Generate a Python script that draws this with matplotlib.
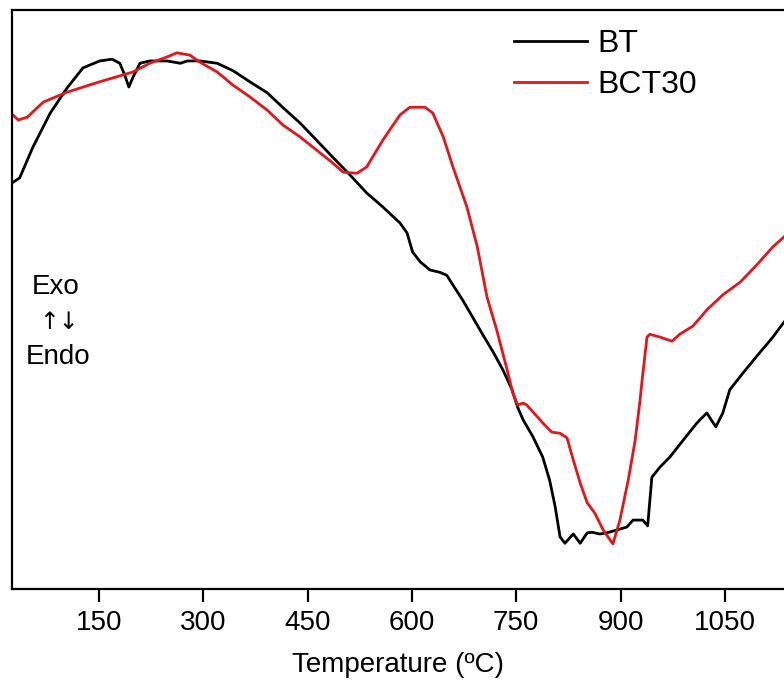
import matplotlib
matplotlib.use('Agg')
import matplotlib.pyplot as plt

plt.rcParams['font.family'] = ['Liberation Sans', 'DejaVu Sans']

# DTA traces, temperature in degC, signal in arbitrary units (exo up)
bt_temp = [26, 36, 55, 80, 104, 127, 151, 169, 180, 187, 193, 199, 209, 223, 248,
           267, 277, 295, 320, 343, 367, 392, 415, 439, 463, 486, 511, 535, 558,
           583, 593, 601, 612, 626, 640, 650, 659, 673, 688, 702, 717, 731, 744,
           752, 760, 774, 788, 798, 806, 813, 820, 832, 842, 852, 859, 870, 880,
           895, 909, 918, 932, 939, 945, 957, 971, 990, 1010, 1024, 1037, 1047,
           1057, 1076, 1100, 1119, 1135]
bt_signal = [70.2, 71.0, 76.3, 82.2, 86.5, 90.0, 91.2, 91.5, 90.8, 88.8, 86.7, 88.4,
             90.8, 91.2, 91.2, 90.8, 91.2, 91.2, 90.8, 89.5, 87.6, 85.7, 83.1, 80.5,
             77.5, 74.6, 71.5, 68.4, 66.0, 63.2, 61.5, 58.2, 56.5, 55.1, 54.7, 54.2,
             52.5, 49.9, 46.8, 43.9, 40.9, 37.8, 34.4, 31.4, 29.2, 26.3, 22.8, 18.8,
             14.2, 9.0, 7.9, 9.5, 7.9, 9.7, 9.8, 9.5, 9.7, 10.2, 10.7, 11.9, 11.9,
             10.9, 19.3, 21.1, 22.8, 25.7, 28.7, 30.4, 28.0, 30.4, 34.4, 37.3, 40.8,
             43.5, 46.1]

bct30_temp = [26, 34, 47, 70, 104, 151, 199, 223, 248, 262, 281, 295, 320, 343, 367,
              392, 415, 439, 463, 486, 501, 521, 535, 558, 583, 597, 619, 630, 645,
              659, 679, 694, 708, 722, 737, 745, 752, 760, 765, 774, 788, 801, 813,
              823, 832, 842, 852, 863, 875, 889, 899, 911, 921, 928, 931, 938, 942,
              957, 974, 985, 1004, 1024, 1047, 1072, 1096, 1119, 1135]
bct30_signal = [81.9, 81.0, 81.5, 84.1, 85.8, 87.6, 89.3, 90.8, 91.9, 92.6, 92.2,
                91.0, 89.3, 87.0, 85.0, 82.7, 80.1, 78.1, 75.8, 73.6, 72.0, 71.8,
                72.9, 77.5, 81.9, 83.2, 83.2, 82.2, 78.1, 72.9, 66.0, 59.1, 50.4,
                44.7, 37.8, 33.9, 31.8, 32.1, 31.8, 30.6, 28.7, 27.1, 26.9, 26.1,
                22.3, 18.3, 14.9, 13.1, 10.2, 7.8, 11.9, 18.8, 25.7, 32.6, 36.1,
                43.5, 44.0, 43.5, 42.8, 44.0, 45.4, 48.2, 50.8, 53.0, 56.0, 59.1,
                60.8]

xticks = [150, 300, 450, 600, 750, 900, 1050]

W, H = 784, 688
fig = plt.figure(figsize=(W / 100, H / 100), dpi=100)
ax = fig.add_axes([12 / W, (H - 589) / H, 1 - 12 / W, 579 / H])

ax.plot(bt_temp, bt_signal, color='black', lw=2.0, label='BT')
ax.plot(bct30_temp, bct30_signal, color='#e3161b', lw=2.0, label='BCT30')

ax.set_xlim(25, 1135)
ax.set_ylim(0, 100)
ax.set_xticks(xticks)
ax.set_yticks([])
ax.spines['right'].set_visible(False)
for s in ['left', 'top', 'bottom']:
    ax.spines[s].set_linewidth(1.6)
ax.tick_params(axis='x', direction='out', length=9, width=1.6, pad=6, labelsize=20)

fig.text(398 / W, 1 - 665 / H, 'Temperature (\u00baC)', fontsize=20,
         ha='center', va='center')

# exo / endo direction marker
fig.text(56 / W, 1 - 287 / H, 'Exo', fontsize=20, ha='center', va='center')
fig.text(59 / W, 1 - 322 / H, '\u2191\u2193', fontsize=17, family='DejaVu Sans',
         ha='center', va='center')
fig.text(58 / W, 1 - 357 / H, 'Endo', fontsize=20, ha='center', va='center')

ax.legend(loc='upper left', bbox_to_anchor=(514 / W, 1 - 29 / H),
          bbox_transform=fig.transFigure, frameon=False, fontsize=23,
          handlelength=2.3, handletextpad=0.3, labelspacing=0.35,
          borderpad=0, borderaxespad=0)

fig.savefig('out.png', dpi=100)
